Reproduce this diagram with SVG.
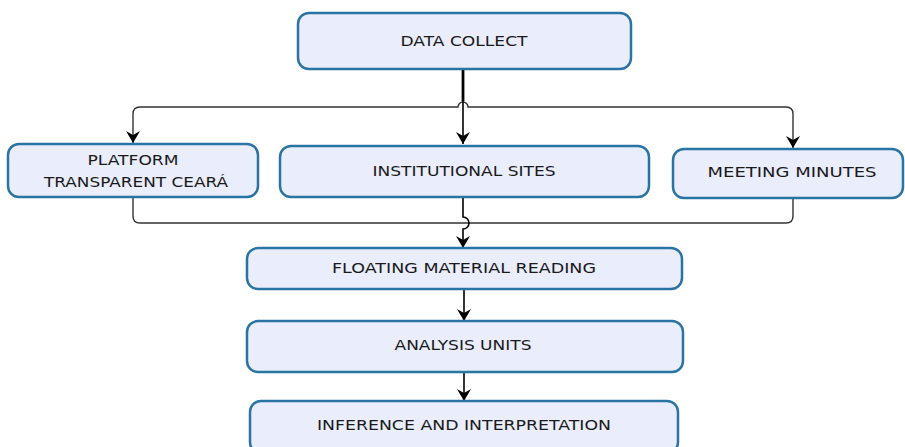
<svg xmlns="http://www.w3.org/2000/svg" width="905" height="447" viewBox="0 0 905 447">
<defs>
<marker id="ah" viewBox="0 0 12 14" refX="12" refY="7" markerWidth="12" markerHeight="14" markerUnits="userSpaceOnUse" orient="auto-start-reverse">
<path d="M0,0 L4,7 L0,14 L12,7 Z" fill="#000"/>
</marker>
<style>
.box{fill:#E9EDFC;stroke:#2A74A3;stroke-width:2.5}
.t{font-family:"DejaVu Sans",sans-serif;font-size:14.5px;fill:#1a1a1a;text-anchor:middle}
.c{fill:none;stroke:#333;stroke-width:1.4}
.ca{fill:none;stroke:#000;stroke-width:1.6}
</style>
</defs>
<rect width="905" height="447" fill="#fff"/>
<g id="connectors">
<path class="c" d="M133,143 V114 Q133,107 140,107 H458 A5,5 0 0 1 468,107 H786 Q793,107 793,114 V148" marker-start="url(#ah)" marker-end="url(#ah)"/>
<path d="M463,69 V101" stroke="#000" stroke-width="2.8" fill="none"/>
<path class="ca" d="M463,100 V144" marker-end="url(#ah)"/>
<path class="c" d="M133,198 V216 Q133,223 140,223 H786 Q793,223 793,216 V198"/>
<path class="ca" d="M463,197 V217 A5,5 0 0 1 463,229 V248" marker-end="url(#ah)"/>
<path class="ca" d="M464,289 V321" marker-end="url(#ah)"/>
<path class="ca" d="M464,372 V401" marker-end="url(#ah)"/>
</g>
<g id="n1"><rect class="box" x="298" y="13" width="333" height="56" rx="11"/><text class="t" x="464" y="46" textLength="127" lengthAdjust="spacingAndGlyphs">DATA COLLECT</text></g>
<g id="n2"><rect class="box" x="8" y="144" width="250" height="53" rx="11"/><text class="t" x="133" y="165" textLength="91" lengthAdjust="spacingAndGlyphs">PLATFORM</text><text class="t" x="136" y="187" textLength="184" lengthAdjust="spacingAndGlyphs">TRANSPARENT CEARÁ</text></g>
<g id="n3"><rect class="box" x="280" y="146" width="369" height="51" rx="11"/><text class="t" x="464" y="176" textLength="183" lengthAdjust="spacingAndGlyphs">INSTITUTIONAL SITES</text></g>
<g id="n4"><rect class="box" x="673" y="149" width="230" height="49" rx="11"/><text class="t" x="792" y="177" textLength="169" lengthAdjust="spacingAndGlyphs">MEETING  MINUTES</text></g>
<g id="n5"><rect class="box" x="247" y="248" width="435" height="41" rx="11"/><text class="t" x="464" y="273" textLength="264" lengthAdjust="spacingAndGlyphs">FLOATING MATERIAL READING</text></g>
<g id="n6"><rect class="box" x="247" y="321" width="436" height="51" rx="11"/><text class="t" x="463" y="350" textLength="137" lengthAdjust="spacingAndGlyphs">ANALYSIS UNITS</text></g>
<g id="n7"><rect class="box" x="250" y="401" width="428" height="52" rx="11"/><text class="t" x="464" y="430" textLength="294" lengthAdjust="spacingAndGlyphs">INFERENCE AND INTERPRETATION</text></g>
</svg>
